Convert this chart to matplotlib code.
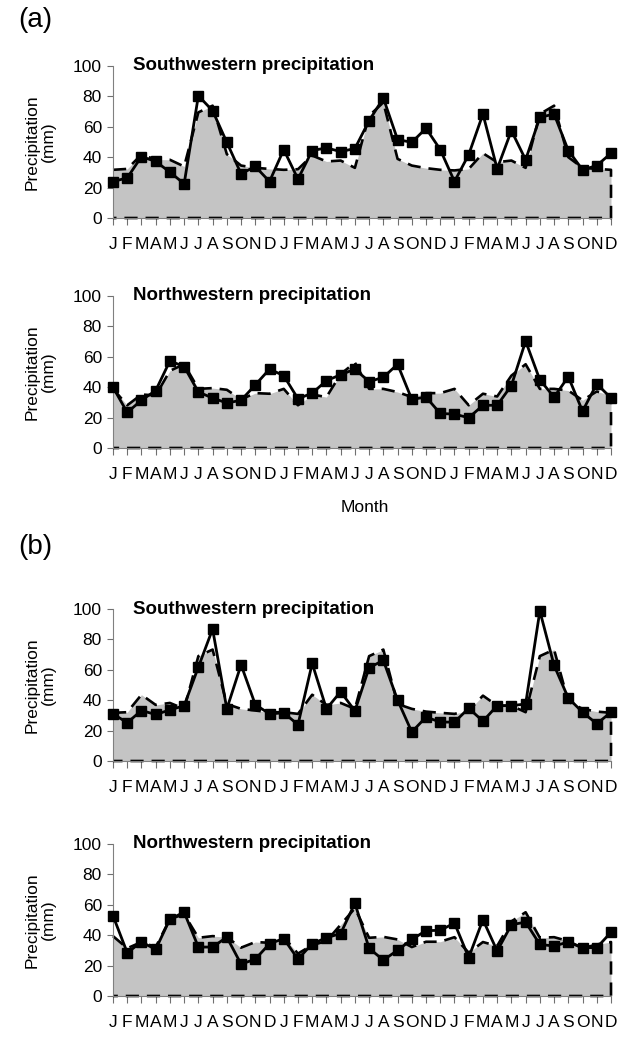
import matplotlib
matplotlib.use('Agg')
import matplotlib.pyplot as plt
import numpy as np

plt.rcParams['font.family'] = ['Liberation Sans', 'DejaVu Sans']

month_labels = list('JFMAMJJASOND') * 3
months = np.arange(36)

# (a) Southwestern: observed (squares) and area (dashed outline)
a_sw_obs = [24.0, 26.4, 40.4, 37.2, 30.2, 22.5, 80.4, 70.6, 49.8, 29.1, 33.9, 24.0,
            45.0, 25.6, 44.4, 46.1, 43.7, 45.7, 64.0, 78.9, 51.6, 49.8, 59.0, 45.0,
            24.0, 41.7, 68.4, 32.3, 57.5, 38.3, 66.2, 68.4, 44.4, 31.7, 34.5, 42.6]
a_sw_area = [31.7, 32.3, 41.7, 38.5, 38.3, 33.9, 69.5, 73.9, 42.0, 34.5, 33.0, 32.3,
             31.7, 32.1, 41.1, 37.2, 37.8, 33.0, 67.3, 76.0, 38.9, 34.5, 32.8, 31.7,
             31.3, 32.3, 42.6, 36.7, 37.8, 33.0, 68.4, 73.9, 40.0, 33.0, 32.3, 31.7]

# (a) Northwestern
a_nw_obs = [40.0, 23.4, 31.4, 37.8, 57.3, 53.6, 36.8, 32.9, 29.6, 31.4, 41.5, 51.9,
            47.6, 32.4, 36.1, 44.3, 48.2, 51.9, 43.7, 46.5, 55.1, 32.0, 33.5, 22.7,
            22.3, 19.9, 28.1, 28.1, 41.1, 70.3, 44.8, 33.5, 46.9, 24.2, 42.2, 32.9]
a_nw_area = [39.0, 28.1, 35.2, 34.6, 50.8, 55.1, 38.9, 39.4, 38.3, 32.0, 36.1, 35.7,
             38.9, 28.1, 35.2, 33.5, 48.6, 56.2, 38.9, 38.9, 36.8, 33.5, 36.1, 36.1,
             38.9, 28.1, 35.7, 33.9, 47.6, 55.1, 38.9, 38.9, 37.8, 31.4, 37.2, 34.6]

# (b) Southwestern
b_sw_obs = [31.0, 25.2, 33.2, 30.6, 33.6, 36.4, 61.8, 86.8, 34.3, 63.3, 37.1, 31.0,
            31.7, 23.9, 64.2, 34.3, 45.6, 33.0, 61.4, 66.2, 40.1, 19.1, 28.9, 25.6,
            25.6, 34.7, 26.2, 36.4, 36.4, 37.5, 98.7, 62.9, 41.4, 32.1, 24.5, 32.1]
b_sw_area = [31.7, 32.1, 43.6, 36.9, 38.2, 34.3, 69.0, 73.3, 37.5, 34.3, 33.2, 32.1,
             32.1, 31.0, 43.6, 36.9, 38.2, 34.3, 69.0, 73.3, 37.5, 34.3, 32.5, 31.7,
             31.0, 33.2, 43.0, 36.4, 36.4, 32.1, 69.0, 73.3, 39.0, 34.3, 32.5, 31.7]

# (b) Northwestern
b_nw_obs = [52.8, 28.5, 35.5, 30.7, 50.6, 55.1, 32.2, 32.2, 38.7, 21.0, 24.2, 34.4,
            37.8, 24.2, 34.4, 38.3, 41.1, 61.0, 31.4, 23.6, 30.1, 37.2, 43.0, 43.2,
            48.0, 25.3, 50.2, 29.6, 46.9, 48.6, 33.9, 32.9, 35.5, 31.8, 31.8, 41.9]
b_nw_area = [39.4, 31.4, 35.5, 32.2, 50.6, 53.8, 38.3, 39.4, 38.7, 31.8, 35.5, 35.0,
             38.7, 27.9, 33.5, 36.1, 46.9, 57.7, 38.3, 38.9, 37.2, 32.2, 35.7, 35.7,
             38.7, 28.5, 35.5, 32.9, 49.1, 55.1, 38.3, 38.7, 36.1, 31.4, 33.9, 35.5]

W, H = 633, 1037
fig = plt.figure(figsize=(W / 100, H / 100), dpi=100)


def panel(bottom_px, title, obs, area):
    ax = fig.add_axes([113 / W, (H - bottom_px) / H, 498 / W, 152 / H])
    area = np.array(area)
    ax.fill_between(months, area, 0, color='#c4c4c4', linewidth=0, zorder=1)
    # dashed outline of the area, including right edge and base
    ox = np.concatenate([months, [months[-1], months[0]]])
    oy = np.concatenate([area, [0, 0]])
    ax.plot(ox, oy, color='black', linestyle=(0, (5, 3)), linewidth=1.9,
            zorder=2, clip_on=False)
    ax.plot(months, obs, color='black', linewidth=2.0, marker='s',
            markersize=7, zorder=3, clip_on=False)
    ax.set_xlim(0, 35)
    ax.set_ylim(0, 100)
    ax.set_yticks(range(0, 101, 20))
    ax.set_xticks(months)
    ax.set_xticklabels(month_labels, fontsize=12.5)
    ax.tick_params(axis='x', length=5, width=0.8, color='#707070', pad=9)
    ax.tick_params(axis='y', length=4, width=0.8, color='#707070', pad=4, labelsize=12.5)
    for s in ['top', 'right']:
        ax.spines[s].set_visible(False)
    ax.spines['left'].set_color('#808080')
    ax.spines['bottom'].set_color('#808080')
    ax.set_ylabel('Precipitation\n(mm)', fontsize=12.5, linespacing=1.1)
    ax.yaxis.set_label_coords(-0.115, 0.5)
    ax.text(0.04, 1.0, title, transform=ax.transAxes, fontsize=13.5,
            fontweight='bold', va='center', ha='left')
    ax.patch.set_alpha(0)
    return ax


panel(218, 'Southwestern precipitation', a_sw_obs, a_sw_area)
panel(448, 'Northwestern precipitation', a_nw_obs, a_nw_area)
panel(761, 'Southwestern precipitation', b_sw_obs, b_sw_area)
panel(996, 'Northwestern precipitation', b_nw_obs, b_nw_area)

fig.text(365 / W, 1 - 508 / H, 'Month', fontsize=12.5, ha='center', va='center')
fig.text(18 / W, 1 - 20 / H, '(a)', fontsize=20, ha='left', va='center')
fig.text(18 / W, 1 - 547 / H, '(b)', fontsize=20, ha='left', va='center')

fig.savefig('out.png', dpi=100)
